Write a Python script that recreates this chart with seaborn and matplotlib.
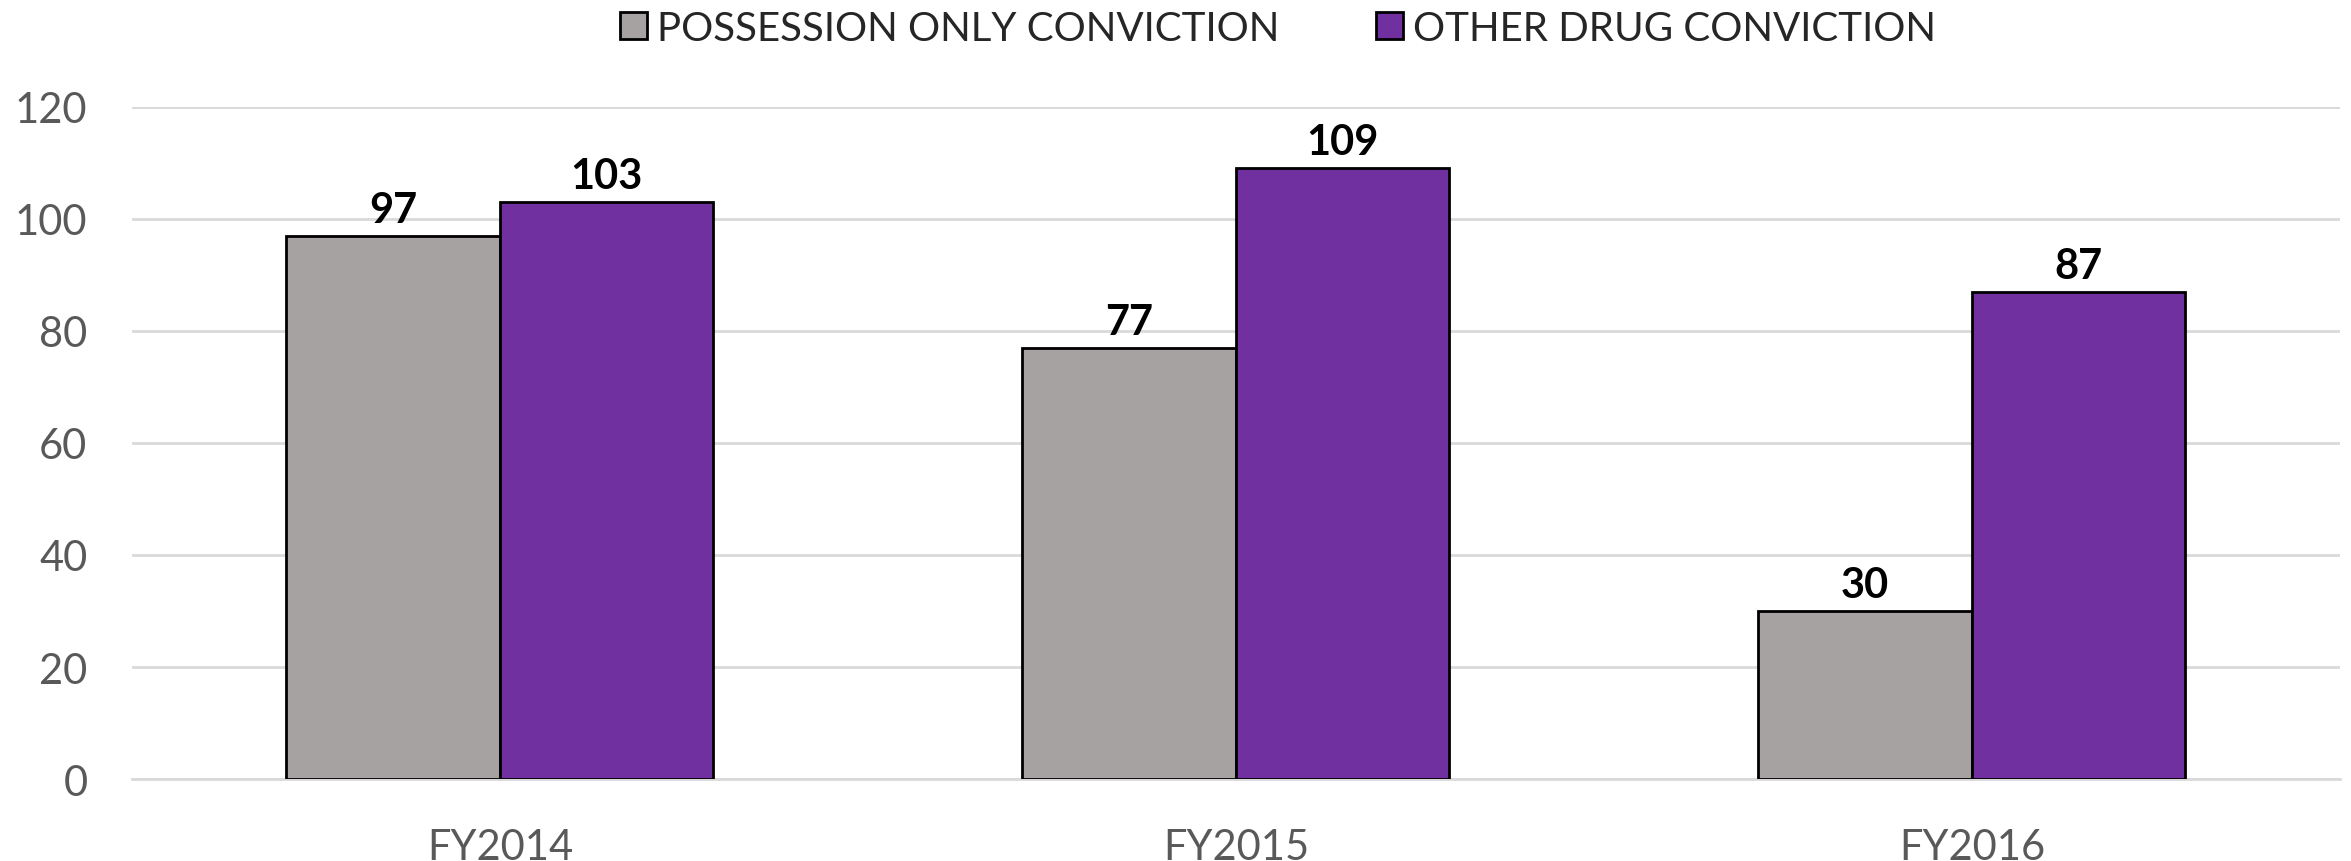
import matplotlib
matplotlib.use("Agg")
import matplotlib.pyplot as plt
import seaborn as sns
import pandas as pd

years = ["FY2014", "FY2015", "FY2016"]
series_names = ["POSSESSION ONLY CONVICTION", "OTHER DRUG CONVICTION"]
possession = [97, 77, 30]
other_drug = [103, 109, 87]
colors = ["#a5a2a1", "#7030a0"]

df = pd.DataFrame({
    "year": years * 2,
    "series": [series_names[0]] * 3 + [series_names[1]] * 3,
    "value": possession + other_drug,
})

sns.set_theme(style="white")
plt.rcParams["font.family"] = ["Lato", "DejaVu Sans"]

fig = plt.figure(figsize=(23.51, 8.62), dpi=100)
ax = fig.add_axes([0.0561, 0.095, 0.9392, 0.78])

sns.barplot(data=df, x="year", y="value", hue="series", order=years,
            hue_order=series_names, palette=colors, width=0.58,
            edgecolor="black", linewidth=2, saturation=1, ax=ax, zorder=3)

ax.set_ylim(0, 120)
ax.set_yticks(range(0, 121, 20))
ax.set_xlim(-0.5, 2.5)
ax.grid(axis="y", color="#d9d9d9", linewidth=2, zorder=0)
ax.set_axisbelow(True)
for s in ["left", "right", "top"]:
    ax.spines[s].set_visible(False)
ax.spines["bottom"].set_color("#d9d9d9")
ax.spines["bottom"].set_linewidth(2)
ax.tick_params(axis="both", length=0, labelsize=30, colors="#595959")
ax.tick_params(axis="x", pad=35)
ax.tick_params(axis="y", pad=32)
ax.set_xlabel("")
ax.set_ylabel("")

for cont in ax.containers:
    ax.bar_label(cont, fmt="%d", fontsize=30, fontweight="bold", color="black", padding=5)

ax.legend(loc="center", bbox_to_anchor=(0.519, 1.117), ncol=2, frameon=False,
          fontsize=29, handlelength=0.67, handleheight=0.67, columnspacing=2.4,
          handletextpad=0.25, borderaxespad=0)

fig.savefig("out.png", dpi=100)
